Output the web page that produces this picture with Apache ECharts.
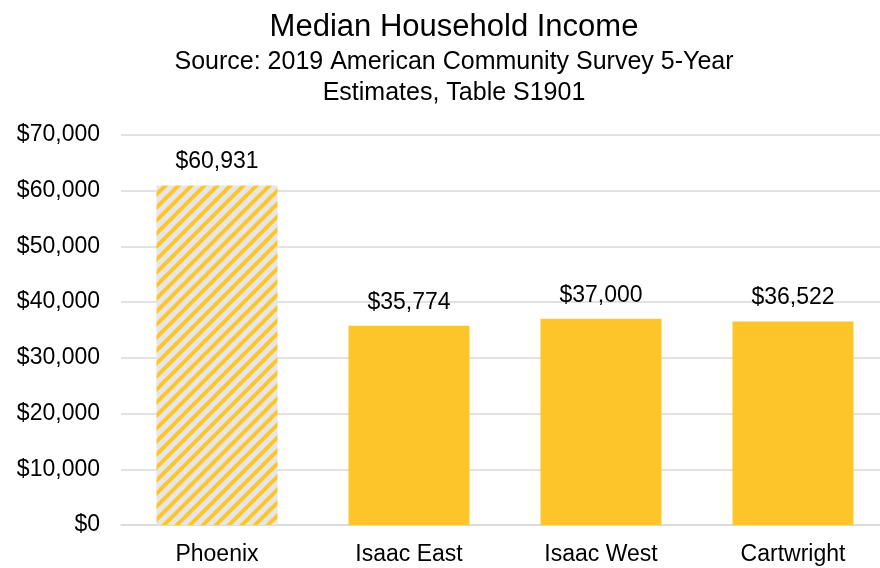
<!DOCTYPE html>
<html>
<head>
<meta charset="utf-8">
<script src="https://cdn.jsdelivr.net/npm/echarts@6/dist/echarts.min.js"></script>
<style>
  html, body { margin: 0; padding: 0; background: #fff; overflow: hidden; }
  #chart { width: 892px; height: 568px; }
</style>
</head>
<body>
<div id="chart"></div>
<script>
// 数据
const categories = ['Phoenix', 'Isaac East', 'Isaac West', 'Cartwright']
const incomes = [60931, 35774, 37000, 36522]
const yTicks = [0, 10000, 20000, 30000, 40000, 50000, 60000, 70000]

;(function () {
  const gold = '#FEC52B'

  // 斜线填充 (Phoenix)
  const tile = document.createElement('canvas')
  tile.width = 13
  tile.height = 13
  const ctx = tile.getContext('2d')
  ctx.fillStyle = '#E6E6E6'
  ctx.fillRect(0, 0, 13, 13)
  ctx.strokeStyle = gold
  ctx.lineWidth = 4
  for (let k = -13; k <= 13; k += 13) {
    ctx.beginPath()
    ctx.moveTo(k - 2, 15)
    ctx.lineTo(k + 15, -2)
    ctx.stroke()
  }

  const fmt = (v) => '$' + Number(v).toLocaleString('en-US')

  // 容器比窗口略宽，最右侧的网格线延伸到画面边缘
  let myChart = echarts.init(document.getElementById('chart'))
  let options = {
    animation: false,
    title: {
      text: 'Median Household Income',
      subtext: 'Source: 2019 American Community Survey 5-Year\nEstimates, Table S1901',
      left: 449,
      textAlign: 'center',
      top: 5,
      itemGap: 3,
      textStyle: {
        fontFamily: 'Liberation Sans',
        fontSize: 31,
        fontWeight: 'normal',
        color: '#000',
        lineHeight: 34,
      },
      subtextStyle: {
        fontFamily: 'Liberation Sans',
        fontSize: 25,
        color: '#000',
        lineHeight: 31,
        align: 'center',
      },
    },
    grid: {
      left: 121,
      right: 3,
      top: 135,
      bottom: 43,
      containLabel: false,
    },
    xAxis: {
      type: 'category',
      data: categories,
      axisTick: { show: false },
      axisLine: { lineStyle: { color: '#D9D9D9', width: 1.5 } },
      axisLabel: {
        color: '#000',
        fontFamily: 'Liberation Sans',
        fontSize: 23,
        margin: 18,
      },
    },
    yAxis: {
      type: 'value',
      min: yTicks[0],
      max: yTicks[yTicks.length - 1],
      interval: 10000,
      axisLine: { show: false },
      axisTick: { show: false },
      axisLabel: {
        color: '#000',
        fontFamily: 'Liberation Sans',
        fontSize: 23,
        margin: 21,
        formatter: fmt,
      },
      splitLine: { lineStyle: { color: '#D9D9D9', width: 1.5 } },
    },
    series: [
      {
        type: 'bar',
        barWidth: 121,
        data: incomes.map((v, i) => ({
          value: v,
          itemStyle: {
            color: i === 0 ? { image: tile, repeat: 'repeat' } : gold,
          },
        })),
        label: {
          show: true,
          position: 'top',
          distance: 12,
          color: '#000',
          fontFamily: 'Liberation Sans',
          fontSize: 23,
          formatter: (p) => fmt(p.value),
        },
      },
    ],
  }
  myChart.setOption(options)
})()
</script>
</body>
</html>
